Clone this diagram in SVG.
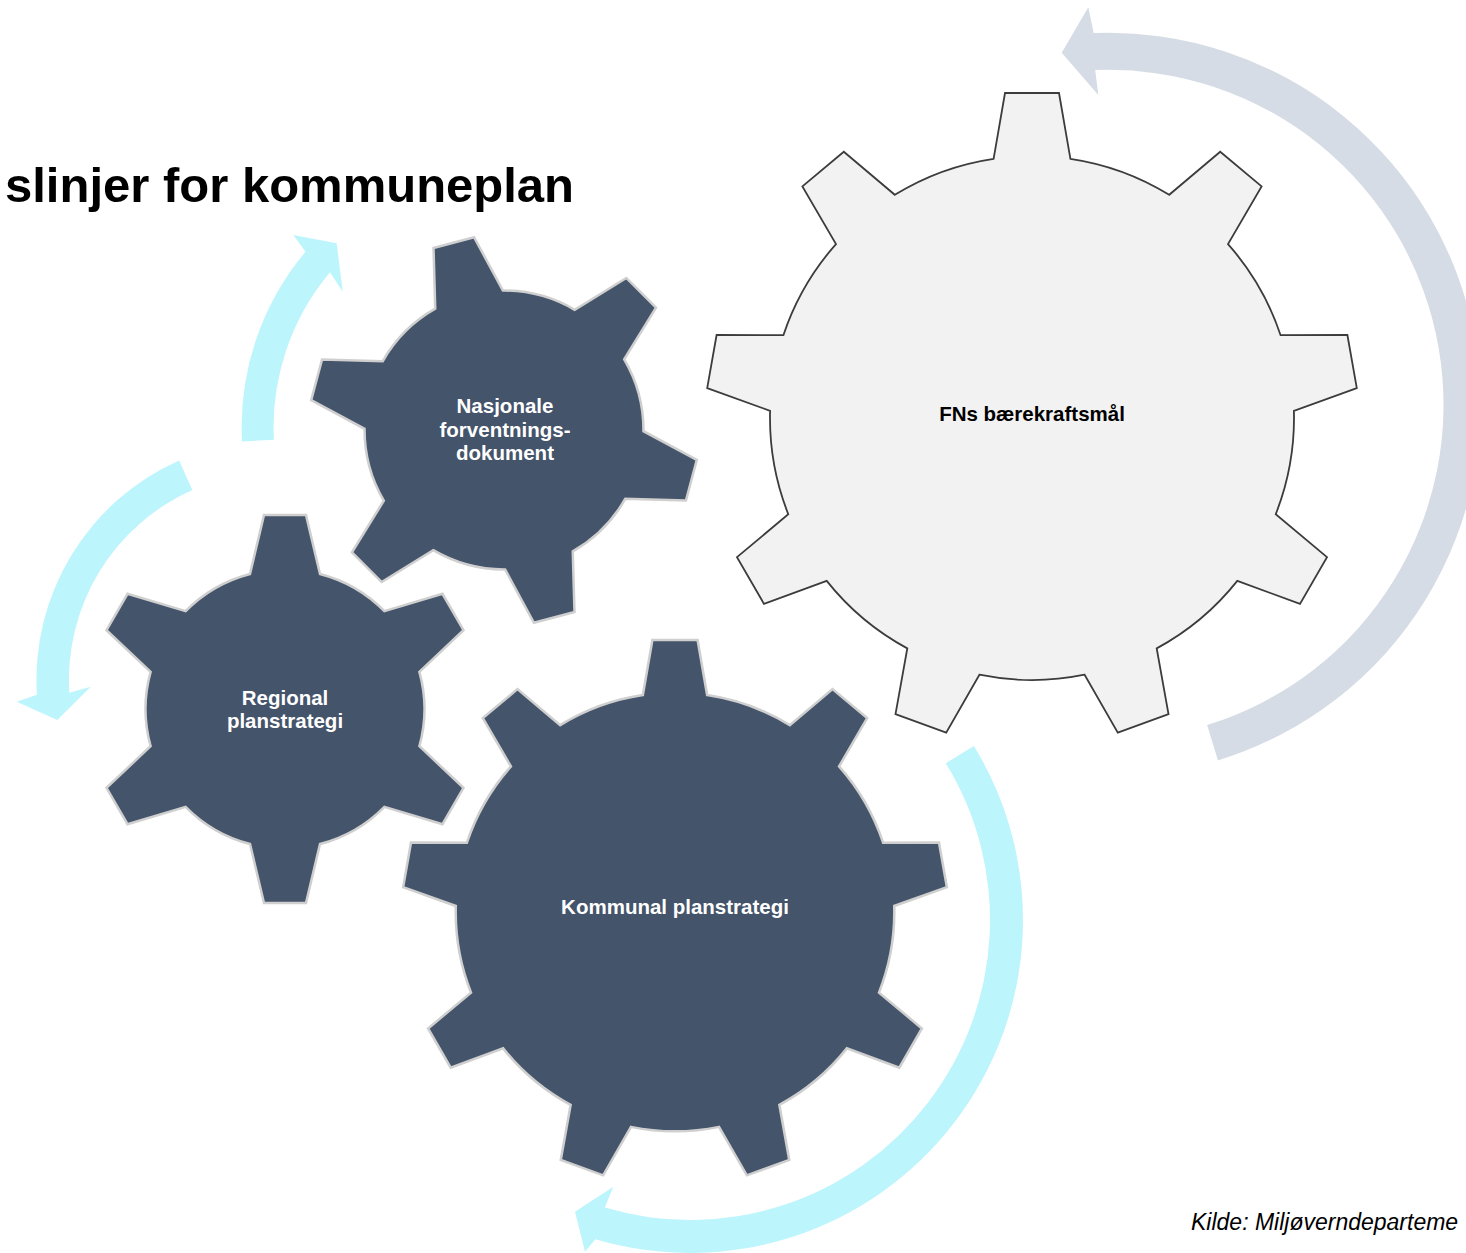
<svg xmlns="http://www.w3.org/2000/svg" width="1466" height="1253" viewBox="0 0 1466 1253">
<style>
.dark{fill:#44546A;stroke:#CFCFCF;stroke-linejoin:miter}
.light{fill:#F2F2F2;stroke:#3C3C3C;stroke-width:1.8;stroke-linejoin:miter}
.cyan{fill:#BDF5FC}
.grey{fill:#D6DCE5}
.lbl{font-family:"Liberation Sans",Arial,sans-serif;font-weight:bold;font-size:20.5px;text-anchor:middle}
.w{fill:#FFFFFF}
.b{fill:#000000}
</style>
<rect width="1466" height="1253" fill="#FFFFFF"/>
<text x="5" y="202" font-family="'Liberation Sans',Arial,sans-serif" font-weight="bold" font-size="49" fill="#000">slinjer for kommuneplan</text>
<g id="connectors">
<path class="grey" d="M1207.1,725 L1218,760.4 A372,372 0 0 0 1093.7,33.1 L1088.3,7.3 L1061.7,52.7 L1098.3,95 L1095.2,70.1 A335,335 0 0 1 1207.1,725 Z"/>
<path class="cyan" d="M273.9,439.8 L242,441.5 A273,273 0 0 1 305.5,251.7 L293.3,235 L336.7,243.3 L342.7,291.7 L330,272.3 A241,241 0 0 0 273.9,439.8 Z"/>
<path class="cyan" d="M192.3,490 L179.1,460.4 A240.4,240.4 0 0 0 36.9,694.7 L16.7,701.7 L57.3,720 L90.7,686.7 L69.3,692.7 A208,208 0 0 1 192.3,490 Z"/>
<path class="cyan" d="M945.8,763.2 L973.9,746 A333,333 0 0 1 595.4,1239.3 L585,1251.7 L575,1211.7 L613.3,1186.7 L604.8,1207.6 A300,300 0 0 0 945.8,763.2 Z"/>
</g>
<g id="gear-fns">
<path class="light" transform="translate(1032 418)" d="M-38.4,-259.2 L-27,-325 L27,-325 L38.4,-259.2 A262,262 0 0 1 137.2,-223.2 L188.2,-266.3 L229.6,-231.6 L196,-173.9 A262,262 0 0 1 248.6,-82.8 L315.4,-83 L324.8,-29.8 L261.9,-7.2 A262,262 0 0 1 243.7,96.3 L295,139.1 L268,185.9 L205.3,162.9 A262,262 0 0 1 124.7,230.4 L136.5,296.2 L85.8,314.6 L52.6,256.7 A262,262 0 0 1 -52.6,256.7 L-85.8,314.6 L-136.5,296.2 L-124.7,230.4 A262,262 0 0 1 -205.3,162.9 L-268,185.9 L-295,139.1 L-243.7,96.3 A262,262 0 0 1 -261.9,-7.2 L-324.8,-29.8 L-315.4,-83 L-248.6,-82.8 A262,262 0 0 1 -196,-173.9 L-229.6,-231.6 L-188.2,-266.3 L-137.2,-223.2 A262,262 0 0 1 -38.4,-259.2 Z"/>
<text class="lbl b" x="1032" y="420.5">FNs bærekraftsmål</text>
</g>
<g id="gear-nasjonale">
<path class="dark" stroke-width="2.5" transform="translate(504 430) rotate(-15)" d="M-35,-135 L-21,-194 L21,-194 L35,-135 A139.5,139.5 0 0 1 99.4,-97.8 L157.5,-115.2 L178.5,-78.8 L134.4,-37.2 A139.5,139.5 0 0 1 134.4,37.2 L178.5,78.8 L157.5,115.2 L99.4,97.8 A139.5,139.5 0 0 1 35,135 L21,194 L-21,194 L-35,135 A139.5,139.5 0 0 1 -99.4,97.8 L-157.5,115.2 L-178.5,78.8 L-134.4,37.2 A139.5,139.5 0 0 1 -134.4,-37.2 L-178.5,-78.8 L-157.5,-115.2 L-99.4,-97.8 A139.5,139.5 0 0 1 -35,-135 Z"/>
<text class="lbl w" x="505" y="413">Nasjonale</text>
<text class="lbl w" x="505" y="436.5">forventnings-</text>
<text class="lbl w" x="505" y="460">dokument</text>
</g>
<g id="gear-regional">
<path class="dark" stroke-width="2.5" transform="translate(285 709)" d="M-35,-135 L-21,-194 L21,-194 L35,-135 A139.5,139.5 0 0 1 99.4,-97.8 L157.5,-115.2 L178.5,-78.8 L134.4,-37.2 A139.5,139.5 0 0 1 134.4,37.2 L178.5,78.8 L157.5,115.2 L99.4,97.8 A139.5,139.5 0 0 1 35,135 L21,194 L-21,194 L-35,135 A139.5,139.5 0 0 1 -99.4,97.8 L-157.5,115.2 L-178.5,78.8 L-134.4,37.2 A139.5,139.5 0 0 1 -134.4,-37.2 L-178.5,-78.8 L-157.5,-115.2 L-99.4,-97.8 A139.5,139.5 0 0 1 -35,-135 Z"/>
<text class="lbl w" x="285" y="704.5">Regional</text>
<text class="lbl w" x="285" y="728">planstrategi</text>
</g>
<g id="gear-kommunal">
<path class="dark" stroke-width="3" transform="translate(675 912) scale(0.837)" d="M-38.4,-259.2 L-27,-325 L27,-325 L38.4,-259.2 A262,262 0 0 1 137.2,-223.2 L188.2,-266.3 L229.6,-231.6 L196,-173.9 A262,262 0 0 1 248.6,-82.8 L315.4,-83 L324.8,-29.8 L261.9,-7.2 A262,262 0 0 1 243.7,96.3 L295,139.1 L268,185.9 L205.3,162.9 A262,262 0 0 1 124.7,230.4 L136.5,296.2 L85.8,314.6 L52.6,256.7 A262,262 0 0 1 -52.6,256.7 L-85.8,314.6 L-136.5,296.2 L-124.7,230.4 A262,262 0 0 1 -205.3,162.9 L-268,185.9 L-295,139.1 L-243.7,96.3 A262,262 0 0 1 -261.9,-7.2 L-324.8,-29.8 L-315.4,-83 L-248.6,-82.8 A262,262 0 0 1 -196,-173.9 L-229.6,-231.6 L-188.2,-266.3 L-137.2,-223.2 A262,262 0 0 1 -38.4,-259.2 Z"/>
<text class="lbl w" x="675" y="913.5" font-size="21">Kommunal planstrategi</text>
</g>
<text x="1191" y="1230" font-family="'Liberation Sans',Arial,sans-serif" font-style="italic" font-size="23" fill="#000">Kilde: Miljøverndeparteme</text>
</svg>
